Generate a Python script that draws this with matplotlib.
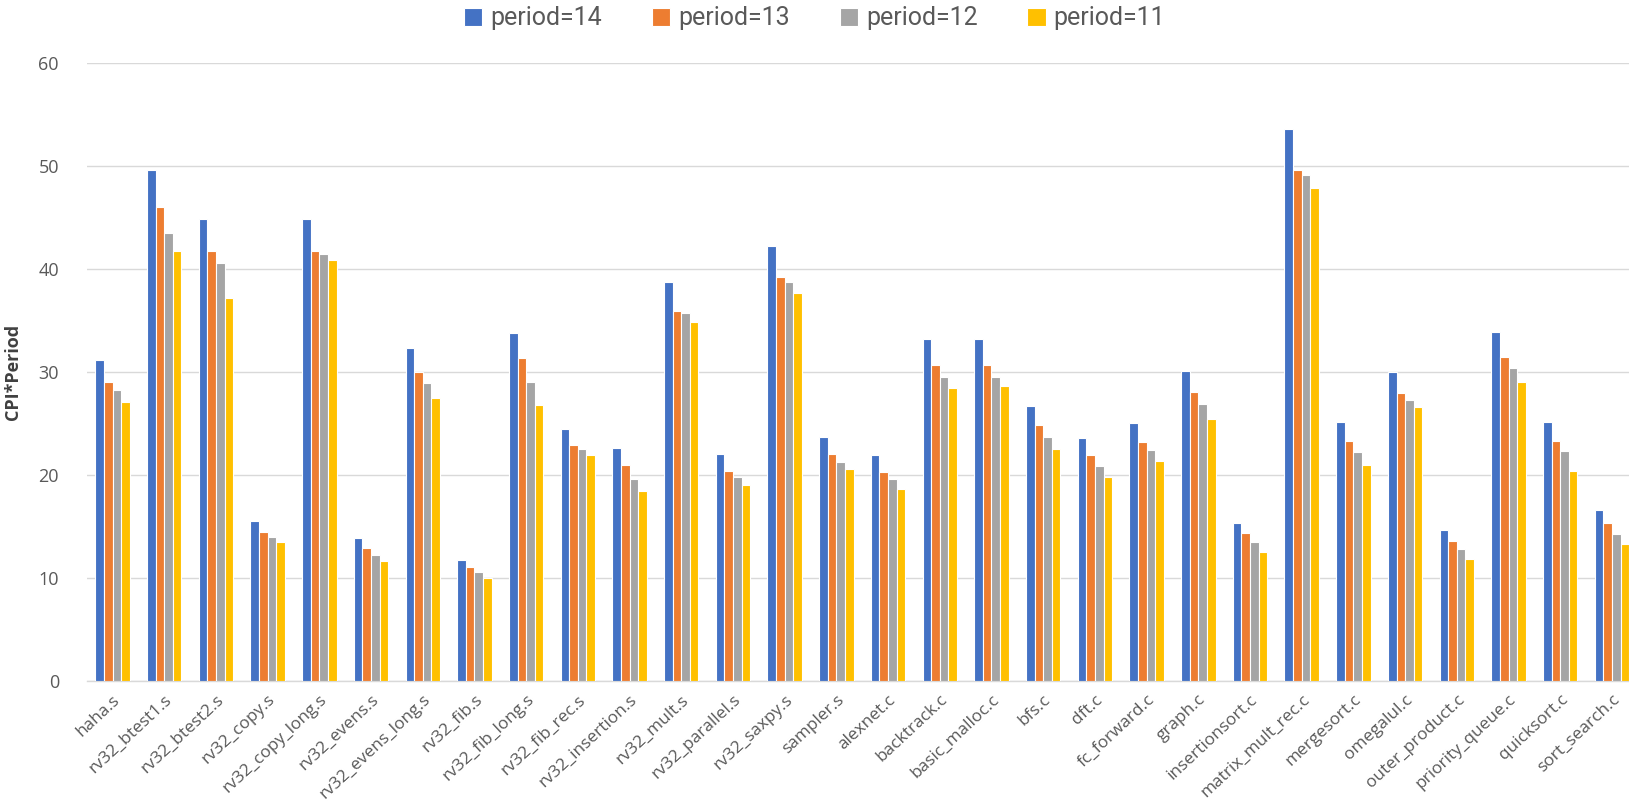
import matplotlib
matplotlib.use("Agg")
import matplotlib.pyplot as plt
from matplotlib import font_manager
import numpy as np

categories = [
    "haha.s", "rv32_btest1.s", "rv32_btest2.s", "rv32_copy.s", "rv32_copy_long.s",
    "rv32_evens.s", "rv32_evens_long.s", "rv32_fib.s", "rv32_fib_long.s", "rv32_fib_rec.s",
    "rv32_insertion.s", "rv32_mult.s", "rv32_parallel.s", "rv32_saxpy.s", "sampler.s",
    "alexnet.c", "backtrack.c", "basic_malloc.c", "bfs.c", "dft.c",
    "fc_forward.c", "graph.c", "insertionsort.c", "matrix_mult_rec.c", "mergesort.c",
    "omegalul.c", "outer_product.c", "priority_queue.c", "quicksort.c", "sort_search.c",
]

period_14 = [31.2, 49.6, 44.9, 15.5, 44.9, 13.85, 32.35, 11.7, 33.8, 24.5,
             22.6, 38.7, 22.0, 42.2, 23.7, 21.9, 33.2, 33.2, 26.65, 23.6,
             25.0, 30.1, 15.35, 53.6, 25.1, 30.0, 14.6, 33.9, 25.1, 16.6]
period_13 = [29.05, 46.05, 41.8, 14.45, 41.8, 12.9, 30.0, 11.0, 31.4, 22.85,
             21.0, 35.9, 20.4, 39.2, 22.0, 20.3, 30.7, 30.7, 24.8, 21.9,
             23.2, 28.05, 14.3, 49.65, 23.3, 27.95, 13.55, 31.45, 23.3, 15.35]
period_12 = [28.2, 43.5, 40.6, 13.95, 41.5, 12.2, 28.95, 10.55, 29.05, 22.5,
             19.55, 35.7, 19.8, 38.7, 21.2, 19.55, 29.55, 29.55, 23.7, 20.9,
             22.45, 26.85, 13.45, 49.15, 22.2, 27.3, 12.8, 30.4, 22.35, 14.25]
period_11 = [27.1, 41.8, 37.2, 13.5, 40.9, 11.65, 27.5, 9.97, 26.75, 21.9,
             18.45, 34.9, 19.05, 37.7, 20.6, 18.6, 28.45, 28.6, 22.5, 19.8,
             21.3, 25.4, 12.45, 47.9, 21.0, 26.6, 11.8, 29.0, 20.35, 13.3]

series_labels = ["period=14", "period=13", "period=12", "period=11"]
series_values = [period_14, period_13, period_12, period_11]
series_colors = ["#4472C4", "#ED7D31", "#A5A5A5", "#FFC000"]

y_ticks = [0, 10, 20, 30, 40, 50, 60]

available = {f.name for f in font_manager.fontManager.ttflist}
narrow = "Liberation Sans Narrow" if "Liberation Sans Narrow" in available else "Roboto"
base_font = "Open Sans" if "Open Sans" in available else "DejaVu Sans"

text_color = "#595959"
grid_color = "#D9D9D9"

fig = plt.figure(figsize=(16.29, 8.06), dpi=100)
ax = fig.add_axes([0.0532, 0.1556, 1 - 0.0532, 0.7659])

x = np.arange(len(categories))
bar_w = 1.0 / 6.0
for i, (label, vals, col) in enumerate(zip(series_labels, series_values, series_colors)):
    ax.bar(x + (i - 1.5) * bar_w, vals, width=bar_w, color=col,
           edgecolor="white", linewidth=0.8, label=label, zorder=3)

ax.set_xlim(-0.5, 29.33)
ax.set_ylim(0, 60)
ax.set_yticks(y_ticks)
ax.set_yticklabels([str(v) for v in y_ticks], fontsize=13, color=text_color,
                   fontfamily=base_font)
ax.set_xticks(x)
ax.set_xticklabels(categories, rotation=43, ha="right", rotation_mode="anchor",
                   fontsize=12.4, color=text_color, fontfamily=base_font)
ax.tick_params(axis="both", length=0)
ax.tick_params(axis="y", pad=20)
ax.tick_params(axis="x", pad=8)

ax.grid(axis="y", color=grid_color, linewidth=1.0, zorder=0)
for side in ["top", "right", "left"]:
    ax.spines[side].set_visible(False)
ax.spines["bottom"].set_color(grid_color)
ax.spines["bottom"].set_linewidth(1.0)

ax.set_ylabel("CPI*Period", fontsize=13, fontweight="bold", color="#404040",
              fontfamily=base_font, labelpad=12)

handles, labels = ax.get_legend_handles_labels()
fig.legend(handles, labels, loc="upper center", bbox_to_anchor=(0.5, 1.02), ncol=4,
           frameon=False, handlelength=0.75, handleheight=0.75, handletextpad=0.3,
           columnspacing=2.0, prop={"family": narrow, "size": 18},
           labelcolor=text_color)

fig.savefig("out.png", dpi=100, facecolor="white")
